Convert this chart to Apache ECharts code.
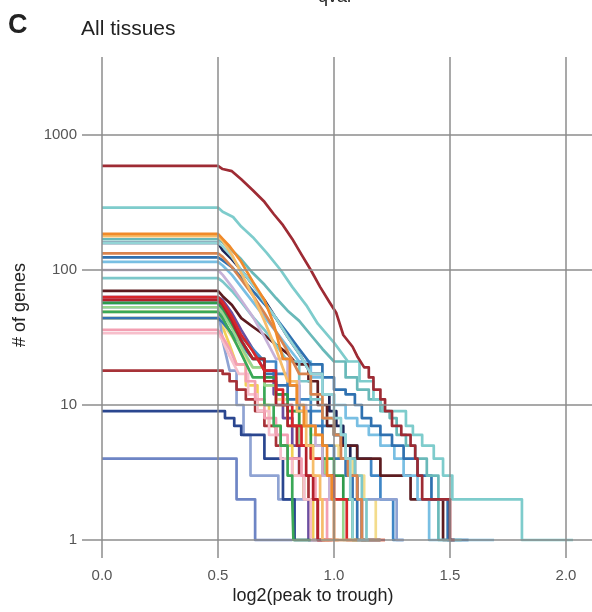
<!DOCTYPE html>
<html><head><meta charset="utf-8">
<script src="https://cdn.jsdelivr.net/npm/echarts@6/dist/echarts.min.js"></script>
<style>html,body{margin:0;padding:0;background:#fff}#c{width:592px;height:612px}</style>
</head><body><div id="c"></div>
<script>
// Tick values
const xTicks = [0, 0.5, 1, 1.5, 2];
const yTicks = [1, 10, 100, 1000];

// Each series: [log2(peak to trough) threshold, # of genes]
const sA = [[0,590],[0.52,560],[0.56,540],[0.6,470],[0.65,390],[0.7,320],[0.74,260],[0.78,215],[0.82,170],[0.86,130],[0.9,100],[0.94,75],[0.98,58],[1.01,48],[1.04,33],[1.08,27],[1.1,23],[1.13,19],[1.15,16],[1.17,13],[1.2,11],[1.22,9],[1.25,7],[1.29,6],[1.33,5],[1.35,4],[1.36,3],[1.38,2],[1.5,1],[1.52,1]];
const sB = [[0,290],[0.52,270],[0.565,247],[0.6,210],[0.65,175],[0.71,134],[0.77,100],[0.82,75],[0.88,55],[0.93,40],[1.0,29],[1.06,21],[1.11,15],[1.17,11],[1.2,10],[1.21,9],[1.31,7],[1.34,6],[1.38,5],[1.43,4],[1.47,3],[1.51,2],[1.81,1],[2.03,1]];
const sC = [[0,185],[0.52,170],[0.55,150],[0.6,115],[0.65,82],[0.7,60],[0.74,40],[0.78,22],[0.81,14],[0.84,10],[0.87,7],[0.92,6],[0.95,5],[0.97,3],[0.99,2],[1.0,1],[1.1,1]];
const sD = [[0,178],[0.52,165],[0.56,130],[0.6,95],[0.65,65],[0.7,42],[0.75,26],[0.8,15],[0.84,9],[0.88,5],[0.91,3],[0.94,2],[0.95,1],[1.02,1]];
const sE = [[0,169],[0.52,160],[0.56,140],[0.6,120],[0.65,95],[0.7,78],[0.75,62],[0.8,50],[0.85,42],[0.9,33],[0.95,26],[1.0,21],[1.05,16],[1.1,13],[1.15,11],[1.2,9],[1.24,8],[1.27,6],[1.31,5],[1.35,4],[1.4,3],[1.45,1],[1.55,1]];
const sF = [[0,159],[0.52,150],[0.56,125],[0.6,100],[0.65,78],[0.7,58],[0.75,44],[0.8,32],[0.85,24],[0.9,17],[0.95,12],[1.0,8],[1.03,6],[1.05,4],[1.07,2],[1.08,1],[1.15,1]];
const sG = [[0,133],[0.52,125],[0.56,105],[0.6,85],[0.65,65],[0.7,48],[0.75,35],[0.8,25],[0.85,17],[0.9,12],[0.95,8],[1.0,6],[1.03,4],[1.06,3],[1.1,2],[1.12,1],[1.2,1]];
const sH = [[0,124],[0.52,118],[0.56,105],[0.6,88],[0.65,70],[0.7,56],[0.75,44],[0.8,34],[0.85,26],[0.9,20],[0.95,16],[1.0,13],[1.05,12],[1.09,10],[1.12,8],[1.16,7],[1.2,6],[1.25,5],[1.3,4],[1.36,3],[1.42,2],[1.49,1],[1.58,1]];
const sI = [[0,115],[0.52,108],[0.56,92],[0.6,75],[0.65,58],[0.7,45],[0.75,35],[0.8,27],[0.85,21],[0.9,16],[0.95,12],[1.0,10],[1.05,8],[1.1,7],[1.15,6],[1.2,5],[1.26,4],[1.3,3],[1.36,2],[1.41,1],[1.69,1]];
const sJ = [[0,100],[0.52,92],[0.56,75],[0.6,60],[0.65,45],[0.7,32],[0.75,22],[0.8,15],[0.85,10],[0.88,7],[0.92,5],[0.95,3],[0.98,2],[1.0,1],[1.08,1]];
const sK = [[0,87],[0.52,82],[0.56,70],[0.6,58],[0.65,45],[0.7,36],[0.75,28],[0.8,21],[0.85,15],[0.9,11],[0.95,8],[1.0,6],[1.05,4],[1.09,3],[1.12,2],[1.14,1],[1.2,1]];
const sL = [[0,70],[0.52,64],[0.56,55],[0.6,44],[0.65,38],[0.7,33],[0.75,28],[0.8,24],[0.84,20],[0.89,15],[0.93,10],[0.97,7],[1.0,6],[1.03,5],[1.1,4],[1.2,3],[1.33,2],[1.47,1],[1.52,1]];
const sM = [[0,63],[0.52,58],[0.56,45],[0.6,33],[0.65,25],[0.7,18],[0.75,13],[0.78,10],[0.82,7],[0.86,5],[0.9,4],[0.95,3],[1.0,2],[1.055,1],[1.22,1]];
const sN = [[0,60],[0.52,55],[0.56,42],[0.6,30],[0.65,22],[0.7,15],[0.75,10],[0.8,7],[0.84,5],[0.88,3],[0.91,2],[0.93,1],[1.0,1]];
const sO = [[0,57],[0.52,52],[0.56,40],[0.6,30],[0.65,22],[0.7,16],[0.75,12],[0.8,9],[0.85,7],[0.9,5],[0.95,4],[1.0,3],[1.04,2],[1.08,1],[1.15,1]];
const sP = [[0,53],[0.52,48],[0.56,37],[0.6,27],[0.65,19],[0.7,14],[0.75,10],[0.8,7],[0.85,5],[0.9,4],[0.96,3],[1.0,2],[1.04,1],[1.1,1]];
const sQ = [[0,49],[0.52,44],[0.56,33],[0.6,24],[0.65,16],[0.7,10],[0.74,7],[0.77,5],[0.8,3],[0.82,2],[0.825,1],[0.9,1]];
const sR = [[0,44],[0.52,41],[0.56,34],[0.6,28],[0.65,22],[0.7,17],[0.75,14],[0.8,11],[0.85,9],[0.9,7],[0.95,5],[1.0,4],[1.05,3],[1.08,2],[1.1,1],[1.2,1]];
const sS = [[0,36],[0.52,32],[0.55,26],[0.58,20],[0.62,15],[0.66,11],[0.7,8],[0.75,6],[0.8,4],[0.86,3],[0.92,2],[0.97,1],[1.02,1]];
const sT = [[0,34],[0.52,30],[0.55,23],[0.59,17],[0.63,12],[0.67,9],[0.72,6],[0.77,4],[0.82,3],[0.87,2],[0.9,1],[0.96,1]];
const sU = [[0,18],[0.52,17],[0.55,15],[0.58,13],[0.62,11],[0.66,9],[0.7,7],[0.75,5],[0.8,4],[0.85,3],[0.89,2],[0.93,1],[0.99,1]];
const sV = [[0,9],[0.53,8],[0.57,7],[0.6,6],[0.7,4],[0.78,2],[0.83,1],[0.95,1]];
const sW = [[0,4],[0.58,2],[0.66,1],[0.82,1]];
// series whose flat part is hidden under others
const sZ = [[0,159],[0.52,140],[0.56,120],[0.6,100],[0.65,78],[0.7,60],[0.75,44],[0.8,32],[0.85,24],[0.9,17],[0.95,12],[0.98,9],[1.01,7],[1.04,5],[1.07,4],[1.09,3],[1.1,2],[1.12,1],[1.2,1]];
const sPu = [[0,63],[0.52,60],[0.56,48],[0.6,36],[0.65,26],[0.7,18],[0.74,12],[0.78,8],[0.82,5],[0.85,3],[0.87,2],[0.89,1],[0.96,1]];
const sY1 = [[0,44],[0.52,38],[0.55,28],[0.58,20],[0.62,14],[0.67,10],[0.72,7],[0.77,5],[0.82,3],[0.87,2],[0.91,1],[0.98,1]];
const sY2 = [[0,49],[0.52,40],[0.56,32],[0.6,25],[0.65,19],[0.7,14],[0.75,11],[0.8,9],[0.85,7],[0.9,6],[0.95,5],[1.02,4],[1.08,3],[1.13,2],[1.18,1],[1.22,1]];
const sR2 = [[0,57],[0.52,47],[0.56,38],[0.6,32],[0.65,26],[0.7,21],[0.75,17],[0.8,14],[0.85,11],[0.9,9],[0.95,7],[1.0,6],[1.05,5],[1.1,4],[1.16,3],[1.2,2],[1.255,1],[1.3,1]];
const sX = [[0,53],[0.52,30],[0.55,18],[0.58,10],[0.61,6],[0.64,3],[0.76,2],[1.27,1],[1.3,1]];

const lines = [
  [sZ,'#1c2356'],[sPu,'#6a4ea0'],[sY1,'#f2cf55'],[sY2,'#f3dc8c'],[sR2,'#3f86c6'],[sX,'#8fa3d3'],
  [sW,'#6e85c5'],[sV,'#2a468f'],[sU,'#a73238'],[sT,'#f7bfcb'],[sS,'#f39fb2'],[sR,'#3473b3'],
  [sQ,'#3aa856'],[sP,'#99d68f'],[sO,'#2e9b4c'],[sN,'#b3202b'],[sM,'#d7262b'],[sL,'#5c1b1f'],
  [sK,'#7cc7ca'],[sJ,'#c6b2d8'],[sI,'#79bfe3'],[sH,'#2f71b0'],[sG,'#d9844e'],[sF,'#93d4d6'],
  [sE,'#69b9b9'],[sD,'#f6bd6a'],[sC,'#f08a2a'],[sB,'#7ecccc'],[sA,'#9e2b34']
];

// Flat to the 0.5 cut-off, diagonal-looking where counts are high, stairs where they are low.
function shape(d){
  const out = [[d[0][0], d[0][1]], [0.5, d[0][1]]];
  for (let i = 1; i < d.length; i++){
    const prev = d[i-1][1];
    if (prev <= 22) out.push([d[i][0], prev]);
    out.push([d[i][0], d[i][1]]);
  }
  return out;
}

const chart = echarts.init(document.getElementById('c'), null, {renderer:'canvas'});
const font = 'Liberation Sans, Arial, Helvetica, sans-serif';
const series = [{
  type:'line', data:[[0,1]], showSymbol:false, lineStyle:{opacity:0}, z:1, silent:true,
  markLine:{silent:true, symbol:['none','none'], label:{show:false},
    lineStyle:{color:'#8c8c8c', width:1.5, type:'solid'},
    emphasis:{disabled:true},
    data: xTicks.map(v=>({xAxis:v})).concat(yTicks.map(v=>({yAxis:v})))}
}];
lines.forEach(([d,c])=>{
  series.push({type:'line', data:shape(d), showSymbol:false, symbol:'none', z:3,
    lineStyle:{color:c, width:2.7, join:'round'}, itemStyle:{color:c}, silent:true});
});

chart.setOption({
  animation:false,
  backgroundColor:'#fff',
  grid:{left:82, right:0, top:57, bottom:54},
  xAxis:{type:'value', min:-0.0862, max:2.112,
    axisLine:{show:false}, axisTick:{show:false}, splitLine:{show:false},
    axisLabel:{customValues:xTicks, color:'#555', fontSize:15, fontFamily:font, margin:10,
      formatter:v=>v.toFixed(1)}},
  yAxis:{type:'log', min:0.7356, max:3784,
    axisLine:{show:false}, axisTick:{show:false}, splitLine:{show:false},
    axisLabel:{customValues:yTicks, color:'#555', fontSize:15, fontFamily:font, margin:5,
      formatter:v=>String(Math.round(v))}},
  series:series,
  graphic:[
    {type:'text', left:8, top:12, style:{text:'C', font:'bold 27px '+font, fill:'#222'}},
    {type:'text', left:81, top:19, style:{text:'All tissues', font:'21px '+font, fill:'#222'}},
    {type:'text', left:318, top:-12, style:{text:'qvar', font:'18px '+font, fill:'#222'}},
    {type:'text', x:313, y:596, style:{text:'log2(peak to trough)', font:'18px '+font, fill:'#222', align:'center', verticalAlign:'middle'}},
    {type:'text', x:20, y:305, rotation:Math.PI/2, style:{text:'# of genes', font:'18px '+font, fill:'#222', align:'center', verticalAlign:'middle'}}
  ]
});
</script></body></html>
